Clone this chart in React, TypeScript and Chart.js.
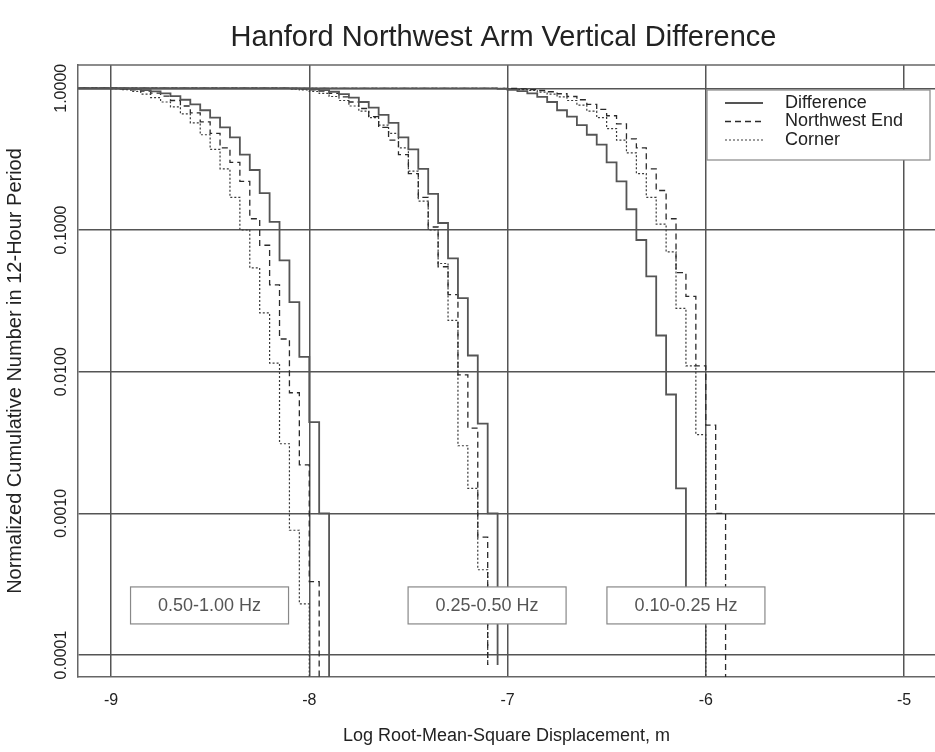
import React, { useEffect, useRef } from 'react';
import { Chart, registerables } from 'chart.js';

Chart.register(...registerables);

const FONT = "'Liberation Sans', Arial, Helvetica, sans-serif";

const chartTitle = 'Hanford Northwest Arm Vertical Difference';
const xAxisTitle = 'Log Root-Mean-Square Displacement, m';
const yAxisTitle = 'Normalized Cumulative Number in 12-Hour Period';
const seriesNames = ['Difference', 'Northwest End', 'Corner'];
const bandLabels = ['0.50-1.00 Hz', '0.25-0.50 Hz', '0.10-0.25 Hz'];
const xTickValues = [-9, -8, -7, -6, -5];
const xTickLabels = ['-9', '-8', '-7', '-6', '-5'];
const yTickValues = [0.0001, 0.001, 0.01, 0.1, 1];
const yTickLabels = ['0.0001', '0.0010', '0.0100', '0.1000', '1.0000'];

// ---- 0.50-1.00 Hz band ----
const hiDiffX = [-9.2, -8.95, -8.9, -8.85, -8.8, -8.75, -8.7, -8.65, -8.6, -8.55, -8.5, -8.45, -8.4, -8.35, -8.3, -8.25, -8.2, -8.15, -8.1, -8.05, -8.0, -7.95, -7.9];
const hiDiffY = [1.0, 0.995, 0.985, 0.97, 0.95, 0.92, 0.88, 0.83, 0.77, 0.7, 0.62, 0.53, 0.45, 0.34, 0.265, 0.182, 0.114, 0.061, 0.031, 0.0127, 0.0044, 0.001, 0.000001];
const hiNwX = [-9.2, -9.0, -8.95, -8.9, -8.85, -8.8, -8.75, -8.7, -8.65, -8.6, -8.55, -8.5, -8.45, -8.4, -8.35, -8.3, -8.25, -8.2, -8.15, -8.1, -8.05, -8.0, -7.95];
const hiNwY = [1.0, 0.997, 0.99, 0.975, 0.955, 0.925, 0.88, 0.82, 0.75, 0.67, 0.58, 0.48, 0.38, 0.3, 0.22, 0.12, 0.078, 0.041, 0.017, 0.0071, 0.0022, 0.00033, 0.000001];
const hiCornerX = [-9.2, -9.05, -9.0, -8.95, -8.9, -8.85, -8.8, -8.75, -8.7, -8.65, -8.6, -8.55, -8.5, -8.45, -8.4, -8.35, -8.3, -8.25, -8.2, -8.15, -8.1, -8.05, -8.0];
const hiCornerY = [1.0, 0.998, 0.993, 0.98, 0.95, 0.91, 0.86, 0.8, 0.74, 0.66, 0.57, 0.47, 0.37, 0.27, 0.17, 0.1, 0.054, 0.026, 0.0115, 0.0031, 0.00076, 0.00023, 0.000001];

// ---- 0.25-0.50 Hz band ----
const midDiffX = [-9.2, -8.1, -8.05, -8.0, -7.95, -7.9, -7.85, -7.8, -7.75, -7.7, -7.65, -7.6, -7.55, -7.5, -7.45, -7.4, -7.35, -7.3, -7.25, -7.2, -7.15, -7.1, -7.05];
const midDiffY = [1.0, 0.998, 0.995, 0.985, 0.97, 0.945, 0.91, 0.86, 0.8, 0.73, 0.65, 0.57, 0.45, 0.37, 0.27, 0.18, 0.112, 0.063, 0.033, 0.013, 0.0043, 0.001, 0.000085];
const midNwX = [-9.2, -8.1, -8.05, -8.0, -7.95, -7.9, -7.85, -7.8, -7.75, -7.7, -7.65, -7.6, -7.55, -7.5, -7.45, -7.4, -7.35, -7.3, -7.25, -7.2, -7.15, -7.1];
const midNwY = [1.0, 0.996, 0.99, 0.975, 0.955, 0.92, 0.87, 0.8, 0.72, 0.63, 0.53, 0.43, 0.34, 0.25, 0.17, 0.105, 0.055, 0.035, 0.0095, 0.004, 0.00068, 0.000085];
const midCornerX = [-9.2, -8.15, -8.1, -8.05, -8.0, -7.95, -7.9, -7.85, -7.8, -7.75, -7.7, -7.65, -7.6, -7.55, -7.5, -7.45, -7.4, -7.35, -7.3, -7.25, -7.2, -7.15, -7.1];
const midCornerY = [1.0, 0.997, 0.99, 0.975, 0.95, 0.92, 0.875, 0.82, 0.75, 0.69, 0.62, 0.55, 0.48, 0.38, 0.26, 0.16, 0.1, 0.058, 0.023, 0.003, 0.0015, 0.0004, 0.000085];

// ---- 0.10-0.25 Hz band ----
const lowDiffX = [-9.2, -7.1, -7.05, -7.0, -6.95, -6.9, -6.85, -6.8, -6.75, -6.7, -6.65, -6.6, -6.55, -6.5, -6.45, -6.4, -6.35, -6.3, -6.25, -6.2, -6.15, -6.1];
const lowDiffY = [1.0, 0.997, 0.99, 0.975, 0.955, 0.92, 0.87, 0.8, 0.7, 0.63, 0.55, 0.47, 0.4, 0.3, 0.22, 0.14, 0.085, 0.047, 0.018, 0.0069, 0.0015, 0.0002];
const lowNwX = [-9.2, -7.0, -6.95, -6.9, -6.85, -6.8, -6.75, -6.7, -6.65, -6.6, -6.55, -6.5, -6.45, -6.4, -6.35, -6.3, -6.25, -6.2, -6.15, -6.1, -6.05, -6.0, -5.95, -5.9];
const lowNwY = [1.0, 0.997, 0.99, 0.98, 0.965, 0.945, 0.915, 0.875, 0.83, 0.77, 0.71, 0.64, 0.56, 0.44, 0.38, 0.27, 0.19, 0.12, 0.05, 0.034, 0.011, 0.0042, 0.001, 0.000001];
const lowCornerX = [-9.2, -7.05, -7.0, -6.95, -6.9, -6.85, -6.8, -6.75, -6.7, -6.65, -6.6, -6.55, -6.5, -6.45, -6.4, -6.35, -6.3, -6.25, -6.2, -6.15, -6.1, -6.05, -6.0];
const lowCornerY = [1.0, 0.997, 0.99, 0.98, 0.965, 0.94, 0.91, 0.87, 0.82, 0.76, 0.69, 0.62, 0.52, 0.43, 0.35, 0.25, 0.17, 0.11, 0.07, 0.028, 0.011, 0.0036, 0.000001];

const STYLES = [
  { color: '#555555', width: 1.8, dash: [] as number[] },
  { color: '#2a2a2a', width: 1.3, dash: [6, 4] },
  { color: '#3a3a3a', width: 1.2, dash: [2, 2] },
];

function toPoints(xs: number[], ys: number[]) {
  return xs.map((x, i) => ({ x, y: ys[i] }));
}

const groups = [
  [[hiDiffX, hiDiffY], [hiNwX, hiNwY], [hiCornerX, hiCornerY]],
  [[midDiffX, midDiffY], [midNwX, midNwY], [midCornerX, midCornerY]],
  [[lowDiffX, lowDiffY], [lowNwX, lowNwY], [lowCornerX, lowCornerY]],
];

const decorPlugin = {
  id: 'decor',
  beforeDatasetsDraw(chart: any) {
    const { ctx, chartArea } = chart;
    ctx.save();
    ctx.strokeStyle = '#666';
    ctx.lineWidth = 1.5;
    ctx.beginPath();
    ctx.moveTo(chartArea.left, chartArea.top);
    ctx.lineTo(chartArea.right, chartArea.top);
    ctx.stroke();
    ctx.restore();
  },
  afterDatasetsDraw(chart: any) {
    const { ctx, chartArea, scales } = chart;
    ctx.save();
    // title
    ctx.fillStyle = '#222';
    ctx.font = `29px ${FONT}`;
    ctx.textAlign = 'center';
    ctx.textBaseline = 'middle';
    ctx.fillText(chartTitle, (chartArea.left + chartArea.right) / 2 - 3, 38);

    // band label boxes
    const centers = [-8.503, -7.103, -6.1];
    const yc = scales.y.getPixelForValue(0.000224);
    centers.forEach((cx, i) => {
      const px = scales.x.getPixelForValue(cx);
      const w = 158, h = 37;
      ctx.fillStyle = '#fff';
      ctx.fillRect(px - w / 2, yc - h / 2, w, h);
      ctx.strokeStyle = '#888';
      ctx.lineWidth = 1.2;
      ctx.strokeRect(px - w / 2, yc - h / 2, w, h);
      ctx.fillStyle = '#555';
      ctx.font = `18px ${FONT}`;
      ctx.textAlign = 'center';
      ctx.textBaseline = 'middle';
      ctx.fillText(bandLabels[i], px, yc + 1);
    });

    // legend
    const lx = 707, ly = 90, lw = 223, lh = 70;
    ctx.fillStyle = '#fff';
    ctx.fillRect(lx, ly, lw, lh);
    ctx.strokeStyle = '#888';
    ctx.lineWidth = 1.2;
    ctx.strokeRect(lx, ly, lw, lh);
    seriesNames.forEach((name, i) => {
      const st = STYLES[i];
      const yy = ly + 13 + i * 18.5;
      ctx.strokeStyle = st.color;
      ctx.lineWidth = st.width;
      ctx.setLineDash(st.dash);
      ctx.beginPath();
      ctx.moveTo(725, yy);
      ctx.lineTo(763, yy);
      ctx.stroke();
      ctx.setLineDash([]);
      ctx.fillStyle = '#222';
      ctx.font = `18px ${FONT}`;
      ctx.textAlign = 'left';
      ctx.textBaseline = 'middle';
      ctx.fillText(name, 785, yy);
    });
    ctx.restore();
  },
};

export default function App() {
  const ref = useRef<HTMLCanvasElement | null>(null);
  useEffect(() => {
    if (!ref.current) return;
    const datasets: any[] = [];
    groups.forEach((g) => {
      g.forEach(([xs, ys], k) => {
        const st = STYLES[k];
        datasets.push({
          label: seriesNames[k],
          data: toPoints(xs, ys),
          borderColor: st.color,
          borderWidth: st.width,
          borderDash: st.dash,
          stepped: true,
          pointRadius: 0,
          fill: false,
          tension: 0,
        });
      });
    });
    const chart = new Chart(ref.current, {
      type: 'line',
      data: { datasets },
      options: {
        responsive: false,
        animation: false,
        layout: { padding: { top: 65, right: 0, left: 0, bottom: 0 } },
        plugins: { legend: { display: false }, tooltip: { enabled: false }, title: { display: false } },
        scales: {
          x: {
            type: 'linear',
            min: -9.1665,
            max: -4.8437,
            afterBuildTicks: (s: any) => {
              s.ticks = xTickValues.map((v) => ({ value: v }));
            },
            afterFit: (s: any) => {
              s.height = 75;
            },
            ticks: {
              callback: (v: any) => xTickLabels[xTickValues.indexOf(Number(v))] ?? '',
              font: { size: 16, family: FONT },
              color: '#222',
              padding: 14,
              autoSkip: false,
              maxRotation: 0,
              minRotation: 0,
            },
            grid: { color: '#555', lineWidth: 1.5, drawTicks: false },
            border: { display: true, color: '#666', width: 1.5 },
            title: {
              display: true,
              text: xAxisTitle,
              font: { size: 18, family: FONT },
              color: '#222',
              padding: { top: 0, bottom: 5 },
            },
          },
          y: {
            type: 'logarithmic',
            min: 0.00007,
            max: 1.46,
            afterBuildTicks: (s: any) => {
              s.ticks = yTickValues.map((v) => ({ value: v }));
            },
            afterFit: (s: any) => {
              s.width = 78;
            },
            ticks: {
              callback: (v: any) => {
                const i = yTickValues.findIndex((t) => Math.abs(Math.log10(t) - Math.log10(Number(v))) < 1e-6);
                return i >= 0 ? yTickLabels[i] : '';
              },
              font: { size: 16, family: FONT },
              color: '#222',
              minRotation: 90,
              maxRotation: 90,
              crossAlign: 'center',
              padding: -8,
              autoSkip: false,
            },
            grid: { color: '#555', lineWidth: 1.5, drawTicks: false },
            border: { display: true, color: '#666', width: 1.5 },
            title: {
              display: true,
              text: yAxisTitle,
              font: { size: 20, family: FONT },
              color: '#222',
              padding: { top: 3, bottom: 0 },
            },
          },
        },
      },
      plugins: [decorPlugin],
    } as any);
    return () => chart.destroy();
  }, []);
  return (
    <div style={{ position: 'fixed', left: 0, top: 0, width: 935, height: 752, background: '#fff' }}>
      <canvas ref={ref} width={935} height={752} style={{ display: 'block', width: 935, height: 752 }} />
    </div>
  );
}
